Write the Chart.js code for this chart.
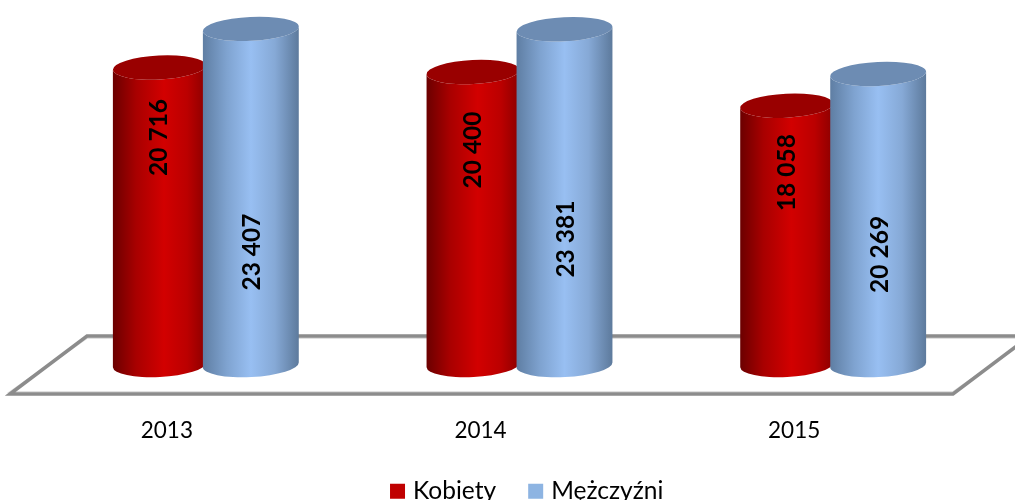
<!DOCTYPE html>
<html>
<head>
<meta charset="utf-8">
<style>
    html, body { margin: 0; padding: 0; background: #fff; }
    canvas { display: block; }
</style>
</head>
<body>
<canvas id="genderChart" width="1015" height="500"></canvas>

<script src="https://cdn.jsdelivr.net/npm/chart.js"></script>
<script>
    const years = ['2013', '2014', '2015'];
    const kobiety = [20716, 20400, 18058];
    const mezczyzni = [23407, 23381, 20269];
    const seriesNames = ['Kobiety', 'Mężczyźni'];

    // where the value label sits along each bar (share of bar height)
    const labelShare = [[0.765, 0.734, 0.742], [0.336, 0.375, 0.38]];

    const legendColors = ['#c00000', '#8db4e2'];
    const bodyStops = [
        [[0, '#6b0000'], [0.25, '#a80000'], [0.55, '#d20000'], [0.8, '#bb0000'], [1, '#8c0000']],
        [[0, '#5f7ea3'], [0.25, '#7fa3d0'], [0.5, '#98bff2'], [0.75, '#86a9d6'], [1, '#5d7a9c']]
    ];
    const capColors = ['#990000', '#6d8cb3'];

    const RY = 12;        // half height of the cylinder ellipses
    const TILT = -0.05;   // slight tilt of the ellipses

    function drawFloor(chart) {
        const ctx = chart.ctx;
        const area = chart.chartArea;
        const base = chart.scales.y.getPixelForValue(0);
        const left = area.left, right = area.right;

        // light inner edge first, then the grey line
        [['#e0e0e0', 2, 2], ['#8c8c8c', 0, 3.5]].forEach(function (s) {
            const back = base - 29 + s[1], front = base + 29 - s[1];
            ctx.beginPath();
            ctx.moveTo(left - 39, front);
            ctx.lineTo(left + 38, back);
            ctx.lineTo(right + 40, back);
            ctx.lineTo(right - 37, front);
            ctx.closePath();
            ctx.strokeStyle = s[0];
            ctx.lineWidth = s[2];
            ctx.stroke();
        });
    }

    function drawCylinder(ctx, bar, seriesIndex) {
        const width = bar.width;
        const overlap = seriesIndex === 1 ? 3 : 0; // blue slightly covers red
        const x0 = bar.x - width / 2 - overlap;
        const x1 = bar.x + width / 2;
        const cx = (x0 + x1) / 2;
        const rx = (x1 - x0) / 2;

        const grad = ctx.createLinearGradient(x0, 0, x1, 0);
        bodyStops[seriesIndex].forEach(function (s) { grad.addColorStop(s[0], s[1]); });

        ctx.beginPath();
        ctx.ellipse(cx, bar.base, rx, RY, TILT, Math.PI, 0, true);
        ctx.ellipse(cx, bar.y, rx, RY, TILT, 0, Math.PI, false);
        ctx.closePath();
        ctx.fillStyle = grad;
        ctx.fill();

        ctx.beginPath();
        ctx.ellipse(cx, bar.y, rx, RY, TILT, 0, Math.PI * 2);
        ctx.fillStyle = capColors[seriesIndex];
        ctx.fill();
    }

    function drawLabel(ctx, bar, seriesIndex, i, value) {
        const y = bar.base - (bar.base - bar.y) * labelShare[seriesIndex][i];
        ctx.save();
        ctx.translate(bar.x, y);
        ctx.rotate(-Math.PI / 2);
        ctx.font = 'bold 24.5px Lato';
        ctx.fillStyle = '#000';
        ctx.textAlign = 'center';
        ctx.textBaseline = 'middle';
        ctx.fillText(String(value).replace(/(\d{3})$/, ' $1'), 0, 0);
        ctx.restore();
    }

    const cylinderPlugin = {
        id: 'cylinders',
        afterLayout(chart) {
            // legend sits lower and more to the right than the layout puts it
            const legend = chart.legend;
            legend.left += 25;
            legend.right += 25;
            legend.top += 31;
            legend.bottom += 31;
        },
        beforeDatasetsDraw(chart) {
            const ctx = chart.ctx;
            drawFloor(chart);
            chart.data.datasets.forEach(function (ds, s) {
                chart.getDatasetMeta(s).data.forEach(function (bar) { drawCylinder(ctx, bar, s); });
            });
            chart.data.datasets.forEach(function (ds, s) {
                chart.getDatasetMeta(s).data.forEach(function (bar, i) { drawLabel(ctx, bar, s, i, ds.data[i]); });
            });
        },
        beforeDatasetDraw() {
            return false; // bars are drawn as cylinders above
        }
    };

    new Chart(document.getElementById('genderChart').getContext('2d'), {
        type: 'bar',
        data: {
            labels: years,
            datasets: [
                { label: seriesNames[0], data: kobiety, backgroundColor: legendColors[0], borderWidth: 0 },
                { label: seriesNames[1], data: mezczyzni, backgroundColor: legendColors[1], borderWidth: 0 }
            ]
        },
        options: {
            responsive: false,
            animation: false,
            layout: { padding: { left: 49, right: 25, top: 6, bottom: 17.5 } },
            datasets: { bar: { barThickness: 93 } },
            plugins: {
                tooltip: { enabled: false },
                legend: {
                    position: 'bottom',
                    labels: {
                        usePointStyle: true,
                        pointStyle: 'rect',
                        boxWidth: 6.5,
                        boxHeight: 15,
                        padding: 5,
                        color: '#000',
                        font: { family: 'Lato', size: 24.5 },
                        generateLabels(chart) {
                            // trailing spaces keep the two entries apart
                            const items = Chart.defaults.plugins.legend.labels.generateLabels(chart);
                            items.forEach(function (item) { item.text += '     '; });
                            return items;
                        }
                    }
                }
            },
            scales: {
                x: {
                    afterFit(scale) { scale.height = 78; },
                    grid: { display: false },
                    border: { display: false },
                    ticks: {
                        color: '#000',
                        padding: 44,
                        labelOffset: -39,
                        maxRotation: 0,
                        font: { family: 'Lato', size: 22.5 }
                    }
                },
                y: { display: false, min: 0, max: 25000 }
            }
        },
        plugins: [cylinderPlugin]
    });
</script>
</body>
</html>
